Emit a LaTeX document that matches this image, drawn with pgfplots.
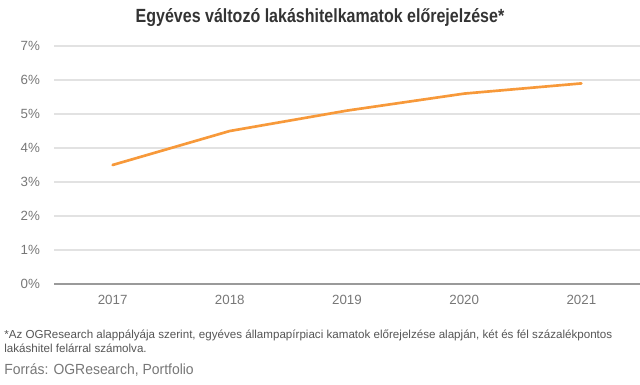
\documentclass[border=0pt]{standalone}
\usepackage{pgfplots}
\pgfplotsset{compat=1.18}
\usepackage{fontspec}
\setmainfont{Liberation Sans}
\newfontfamily\titlefont[FakeStretch=0.84]{Liberation Sans}
\newfontfamily\condfont[FakeStretch=0.95]{Liberation Sans}
\definecolor{lineorange}{HTML}{F7993A}
\definecolor{gridgray}{HTML}{E2E2E2}
\definecolor{basegray}{HTML}{9A9A9A}
\definecolor{ticktext}{HTML}{777777}
\definecolor{titletext}{HTML}{333333}
\definecolor{notetext}{HTML}{555555}
\begin{document}
\begin{tikzpicture}
\path[use as bounding box] (0,0) rectangle (480pt,288.75pt);
\begin{axis}[
  at={(40.5pt,75.75pt)}, anchor=south west, scale only axis,
  width=439.5pt, height=178.5pt,
  xmin=2016.5, xmax=2021.5, ymin=0, ymax=7,
  xtick={2017,2018,2019,2020,2021}, ytick={0,1,2,3,4,5,6,7},
  axis line style={draw=none},
  major tick length=0pt,
  ymajorgrids, grid style={gridgray, line width=0.8pt},
  extra y ticks={0}, extra y tick labels={},
  extra y tick style={grid style={basegray, line width=0.9pt}},
  /pgf/number format/assume math mode=true,
  /pgf/number format/1000 sep={},
  yticklabel={\pgfmathprintnumber{\tick}\%},
  tick label style={font=\fontsize{10}{12}\selectfont, text=ticktext},
  yticklabel style={xshift=-7pt},
  xticklabel style={yshift=-5pt},
  clip=false,
]
\addplot[lineorange, line width=2pt, no markers, line join=round, line cap=round]
  coordinates {(2017,3.5) (2018,4.5) (2019,5.1) (2020,5.6) (2021,5.9)};
\end{axis}
\node[text=titletext, font=\titlefont\bfseries\fontsize{14.3}{16}\selectfont] at (240pt,275.25pt) {Egyéves változó lakáshitelkamatok előrejelzése*};
\node[anchor=north west, inner sep=0pt, align=left, text=notetext, font=\fontsize{8.7}{10.5}\selectfont] at (3pt,41.5pt) {*Az OGResearch alappályája szerint, egyéves állampapírpiaci kamatok előrejelzése alapján, két és fél százalékpontos\\lakáshitel felárral számolva.};
\node[anchor=west, inner sep=0pt, text=ticktext, font=\condfont\fontsize{11}{13}\selectfont] at (3pt,11.25pt) {Forrás: OGResearch, Portfolio};
\end{tikzpicture}
\end{document}
